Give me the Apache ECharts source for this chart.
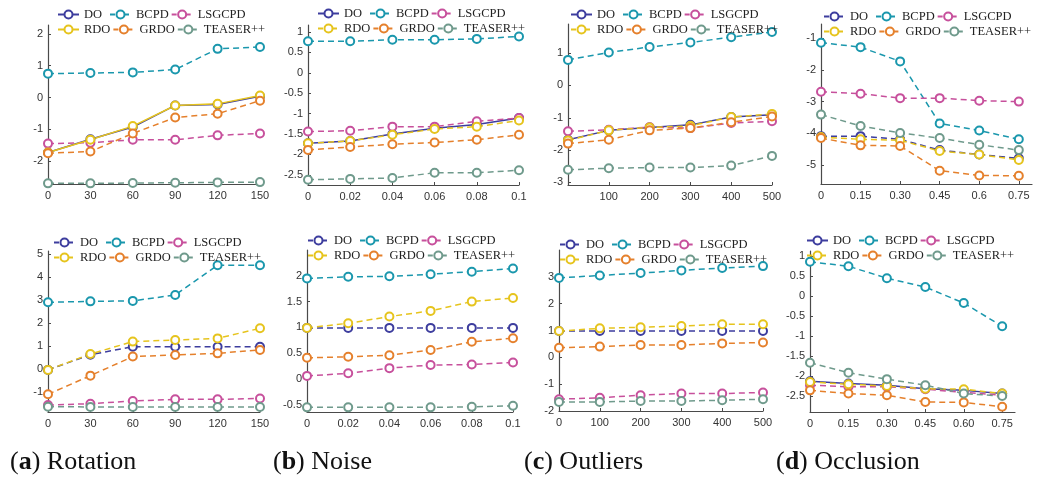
<!DOCTYPE html>
<html>
<head>
	<meta charset="UTF-8">
	<title>Registration error panels</title>
	<script src="https://cdn.jsdelivr.net/npm/echarts@6/dist/echarts.min.js"></script>
	<style>
		body { margin: 0; background: #fff; }
		#chart { width: 1039px; height: 477px; }
	</style>
</head>
<body>
	<div id="chart"></div>
<script type="text/javascript">
	// methods, in legend order (3 per row)
	var methods = ['DO', 'BCPD', 'LSGCPD', 'RDO', 'GRDO', 'TEASER++'];
	var colors = ['#3d3d9e', '#1a97ad', '#c7509c', '#e6c41d', '#e5802c', '#6f9a8c'];

	// x values per experiment
	var rotX = [0, 30, 60, 90, 120, 150];
	var noiseX = [0, 0.02, 0.04, 0.06, 0.08, 0.1];
	var outX = [0, 100, 200, 300, 400, 500];
	var occX = [0, 0.15, 0.3, 0.45, 0.6, 0.75];

	// x tick labels
	var rotLabels = ['0', '30', '60', '90', '120', '150'];
	var noiseLabels = ['0', '0.02', '0.04', '0.06', '0.08', '0.1'];
	var outLabels = ['0', '100', '200', '300', '400', '500'];
	var occLabelsTop = ['0', '0.15', '0.30', '0.45', '0.6', '0.75'];
	var occLabelsBottom = ['0', '0.15', '0.30', '0.45', '0.60', '0.75'];

	// y tick values
	var rotTopTicks = [-2, -1, 0, 1, 2];
	var noiseTopTicks = [-2.5, -2, -1.5, -1, -0.5, 0, 0.5, 1];
	var outTopTicks = [-3, -2, -1, 0, 1];
	var occTopTicks = [-5, -4, -3, -2, -1];
	var rotBottomTicks = [-1, 0, 1, 2, 3, 4, 5];
	var noiseBottomTicks = [-0.5, 0, 0.5, 1, 1.5, 2];
	var outBottomTicks = [-2, -1, 0, 1, 2, 3];
	var occBottomTicks = [-2.5, -2, -1.5, -1, -0.5, 0, 0.5, 1];

	// rows: DO, BCPD, LSGCPD, RDO, GRDO, TEASER++
	var rotationTop = [
		[-1.73, -1.31, -0.93, -0.25, -0.22, 0.04],
		[0.75, 0.77, 0.79, 0.88, 1.53, 1.59],
		[-1.45, -1.42, -1.33, -1.33, -1.19, -1.13],
		[-1.73, -1.33, -0.90, -0.25, -0.20, 0.06],
		[-1.75, -1.70, -1.13, -0.63, -0.51, -0.10],
		[-2.70, -2.70, -2.69, -2.68, -2.67, -2.66]
	];
	var noiseTop = [
		[-1.73, -1.67, -1.50, -1.36, -1.27, -1.11],
		[0.77, 0.77, 0.81, 0.81, 0.83, 0.89],
		[-1.44, -1.42, -1.32, -1.32, -1.19, -1.11],
		[-1.73, -1.67, -1.52, -1.38, -1.32, -1.17],
		[-1.89, -1.82, -1.75, -1.71, -1.64, -1.52],
		[-2.62, -2.60, -2.58, -2.45, -2.45, -2.39]
	];
	var outliersTop = [
		[-1.68, -1.39, -1.30, -1.22, -0.98, -0.91],
		[0.79, 1.02, 1.19, 1.33, 1.49, 1.65],
		[-1.42, -1.37, -1.29, -1.32, -1.16, -1.11],
		[-1.70, -1.39, -1.30, -1.25, -0.98, -0.88],
		[-1.80, -1.68, -1.39, -1.32, -1.14, -0.96],
		[-2.61, -2.56, -2.54, -2.54, -2.48, -2.18]
	];
	var occlusionTop = [
		[-4.09, -4.09, -4.19, -4.53, -4.67, -4.79],
		[-1.14, -1.28, -1.73, -3.69, -3.91, -4.19],
		[-2.69, -2.75, -2.89, -2.89, -2.97, -3.00],
		[-4.12, -4.19, -4.22, -4.56, -4.67, -4.84],
		[-4.15, -4.38, -4.40, -5.18, -5.33, -5.34],
		[-3.41, -3.77, -3.99, -4.15, -4.36, -4.53]
	];
	var rotationBottom = [
		[-0.04, 0.62, 0.97, 0.97, 0.97, 0.97],
		[2.90, 2.94, 2.96, 3.22, 4.51, 4.51],
		[-1.57, -1.51, -1.39, -1.32, -1.32, -1.28],
		[-0.04, 0.65, 1.19, 1.26, 1.33, 1.77],
		[-1.10, -0.29, 0.54, 0.61, 0.68, 0.83],
		[-1.64, -1.65, -1.65, -1.65, -1.65, -1.65]
	];
	var noiseBottom = [
		[0.99, 0.99, 0.99, 0.99, 0.99, 0.99],
		[1.95, 1.98, 1.99, 2.03, 2.08, 2.14],
		[0.06, 0.11, 0.21, 0.27, 0.28, 0.32],
		[0.99, 1.08, 1.21, 1.32, 1.50, 1.57],
		[0.41, 0.43, 0.46, 0.56, 0.72, 0.79],
		[-0.55, -0.55, -0.55, -0.55, -0.54, -0.52]
	];
	var outliersBottom = [
		[0.98, 0.98, 0.98, 0.98, 0.98, 0.98],
		[2.96, 3.05, 3.14, 3.24, 3.33, 3.40],
		[-1.56, -1.51, -1.41, -1.35, -1.35, -1.31],
		[0.98, 1.08, 1.12, 1.17, 1.23, 1.23],
		[0.36, 0.40, 0.46, 0.46, 0.52, 0.55],
		[-1.66, -1.66, -1.63, -1.63, -1.60, -1.56]
	];
	var occlusionBottom = [
		[-2.13, -2.19, -2.23, -2.32, -2.36, -2.44],
		[0.85, 0.74, 0.44, 0.22, -0.18, -0.76],
		[-2.23, -2.27, -2.27, -2.33, -2.41, -2.48],
		[-2.15, -2.21, -2.25, -2.32, -2.33, -2.44],
		[-2.36, -2.44, -2.48, -2.65, -2.66, -2.77],
		[-1.67, -1.92, -2.08, -2.23, -2.44, -2.50]
	];

	// panel layout: grid [left, top, width, height], legend [left, top]
	var panels = [
		{grid: [48, 25, 212, 159], legend: [57, 8], x: rotX, xr: [0, 150], xl: rotLabels, xHide: [], yr: [-2.72, 2.28], yt: rotTopTicks, data: rotationTop, solid: ['DO', 'RDO']},
		{grid: [308, 25, 211, 160], legend: [317, 7], x: noiseX, xr: [0, 0.1], xl: noiseLabels, xHide: [], yr: [-2.75, 1.17], yt: noiseTopTicks, data: noiseTop, solid: ['DO']},
		{grid: [568, 24, 204, 161], legend: [570, 8], x: outX, xr: [0, 500], xl: outLabels, xHide: [0], yr: [-3.08, 1.9], yt: outTopTicks, data: outliersTop, solid: ['DO']},
		{grid: [821, 24, 211, 160], legend: [823, 10], x: occX, xr: [0, 0.8], xl: occLabelsTop, xHide: [], yr: [-5.6, -0.55], yt: occTopTicks, data: occlusionTop, solid: []},
		{grid: [48, 251, 212, 161], legend: [53, 236], x: rotX, xr: [0, 150], xl: rotLabels, xHide: [], yr: [-1.87, 5.13], yt: rotBottomTicks, data: rotationBottom, solid: []},
		{grid: [307, 250, 206, 162], legend: [307, 234], x: noiseX, xr: [0, 0.1], xl: noiseLabels, xHide: [], yr: [-0.64, 2.5], yt: noiseBottomTicks, data: noiseBottom, solid: []},
		{grid: [559, 250, 204, 161], legend: [559, 238], x: outX, xr: [0, 500], xl: outLabels, xHide: [], yr: [-2, 4], yt: outBottomTicks, data: outliersBottom, solid: []},
		{grid: [810, 251, 205, 161], legend: [806, 234], x: occX, xr: [0, 0.8], xl: occLabelsBottom, xHide: [], yr: [-2.9, 1.12], yt: occBottomTicks, data: occlusionBottom, solid: ['DO']}
	];

	var captions = [
		{left: 10, letter: 'a', text: 'Rotation'},
		{left: 273, letter: 'b', text: 'Noise'},
		{left: 524, letter: 'c', text: 'Outliers'},
		{left: 776, letter: 'd', text: 'Occlusion'}
	];

	var axisColor = '#4a4a4a';
	var tickFont = {fontFamily: 'Liberation Sans', fontSize: 11, color: '#333'};
	var colClass = ['c1', 'c2', 'c3', 'c1', 'c2', 'c3'];

	var grids = [], xAxes = [], yAxes = [], series = [], legends = [], titles = [];

	panels.forEach(function (p, k) {
		grids.push({left: p.grid[0], top: p.grid[1], width: p.grid[2], height: p.grid[3], containLabel: false});

		var xLabelVals = p.x.filter(function (v) { return p.xHide.indexOf(v) < 0; });
		xAxes.push({
			type: 'value', gridIndex: k, min: p.xr[0], max: p.xr[1],
			axisLine: {show: true, onZero: false, lineStyle: {color: axisColor, width: 1.2}},
			axisTick: {show: true, inside: true, length: 3, customValues: p.x, lineStyle: {color: axisColor}},
			axisLabel: Object.assign({
				margin: 6, customValues: xLabelVals,
				formatter: function (v) {
					for (var i = 0; i < p.x.length; i++) {
						if (Math.abs(p.x[i] - v) < 1e-9) return p.xl[i];
					}
					return '';
				}
			}, tickFont),
			splitLine: {show: false}
		});

		yAxes.push({
			type: 'value', gridIndex: k, min: p.yr[0], max: p.yr[1],
			axisLine: {show: true, onZero: false, lineStyle: {color: axisColor, width: 1.2}},
			axisTick: {show: true, inside: true, length: 3, customValues: p.yt, lineStyle: {color: axisColor}},
			axisLabel: Object.assign({margin: 5, customValues: p.yt, formatter: function (v) { return String(v); }}, tickFont),
			splitLine: {show: false}
		});

		methods.forEach(function (m, j) {
			var solid = p.solid.indexOf(m) >= 0;
			series.push({
				name: m, type: 'line', xAxisIndex: k, yAxisIndex: k,
				data: p.x.map(function (xv, i) { return [xv, p.data[j][i]]; }),
				symbol: 'emptyCircle', symbolSize: 8,
				itemStyle: {color: colors[j], borderWidth: 1.3},
				lineStyle: {color: colors[j], width: 1.5, type: solid ? 'solid' : [6, 4]},
				emphasis: {disabled: true},
				animation: false
			});
		});

		legends.push({
			left: p.legend[0], top: p.legend[1], width: 215, padding: 0,
			orient: 'horizontal', itemWidth: 21, itemHeight: 10, itemGap: 2,
			selectedMode: false,
			data: methods.map(function (m) {
				return {name: m, lineStyle: {type: p.solid.indexOf(m) >= 0 ? 'solid' : [5, 2]}};
			}),
			formatter: function (name) {
				return '{' + colClass[methods.indexOf(name)] + '|' + name + '}';
			},
			textStyle: {
				fontFamily: 'Liberation Serif', fontSize: 12.5, color: '#222', lineHeight: 12,
				rich: {
					c1: {width: 23, fontFamily: 'Liberation Serif', fontSize: 12.5, lineHeight: 12},
					c2: {width: 32, fontFamily: 'Liberation Serif', fontSize: 12.5, lineHeight: 12},
					c3: {width: 60, fontFamily: 'Liberation Serif', fontSize: 12.5, lineHeight: 12}
				}
			}
		});
	});

	captions.forEach(function (c) {
		titles.push({
			left: c.left, top: 449, padding: 0,
			text: '{p|(}{b|' + c.letter + '}{p|) ' + c.text + '}',
			textStyle: {
				fontFamily: 'Liberation Serif', fontSize: 26, fontWeight: 'normal', color: '#111',
				rich: {
					p: {fontFamily: 'Liberation Serif', fontSize: 26, color: '#111'},
					b: {fontFamily: 'Liberation Serif', fontSize: 26, fontWeight: 'bold', color: '#111'}
				}
			}
		});
	});

	var myChart = echarts.init(document.getElementById('chart'));
	myChart.setOption({
		backgroundColor: '#fff',
		animation: false,
		title: titles,
		grid: grids,
		xAxis: xAxes,
		yAxis: yAxes,
		legend: legends,
		series: series
	});
</script>
</body>
</html>
